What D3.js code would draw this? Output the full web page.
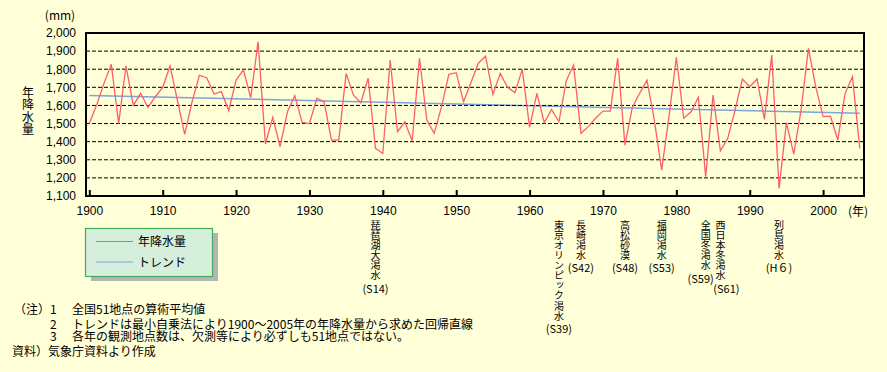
<!DOCTYPE html>
<html>
<head>
<meta charset="utf-8">
<script src="https://cdn.jsdelivr.net/npm/d3@7"></script>
<style>
  body { margin: 0; background: #ffffd8; }
  svg { display: block; font-family: "Noto Sans CJK JP", "Noto Sans", sans-serif; }
  .axis path { display: none; }
  .axis text { font-size: 12px; fill: #000; }
  .vert { writing-mode: vertical-rl; text-orientation: upright; }
</style>
</head>
<body>
<div id="chart"></div>
<script>
// annual precipitation, mean of 51 stations (mm), 1900-2005
var years = d3.range(1900, 2006);
var rainfall = [
  1500, 1602, 1722, 1827, 1500, 1818, 1600, 1667, 1589, 1648,
  1700, 1818, 1630, 1440, 1620, 1766, 1753, 1663, 1676, 1571,
  1740, 1796, 1643, 1952, 1387, 1534, 1372, 1565, 1654, 1506,
  1500, 1639, 1620, 1409, 1409, 1777, 1657, 1615, 1750, 1363,
  1335, 1851, 1455, 1510, 1405, 1860, 1519, 1446, 1593, 1772,
  1781, 1620, 1725, 1832, 1873, 1661, 1777, 1700, 1670, 1799,
  1479, 1667, 1505, 1578, 1510, 1737, 1823, 1446, 1483, 1529,
  1569, 1569, 1860, 1381, 1589, 1667, 1740, 1519, 1243, 1540,
  1866, 1529, 1565, 1645, 1206, 1657, 1350, 1418, 1575, 1746,
  1703, 1746, 1523, 1878, 1142, 1505, 1331, 1575, 1915, 1703,
  1538, 1541, 1409, 1667, 1759, 1363
];
var trendYears = [1900, 2005];
var trendValues = [1655, 1557];

var yTicks = [1100, 1200, 1300, 1400, 1500, 1600, 1700, 1800, 1900, 2000];
var xTicks = [1900, 1910, 1920, 1930, 1940, 1950, 1960, 1970, 1980, 1990, 2000];

var droughts = [
  {year: 1939, name: "琵琶湖大渇水", era: "(S14)"},
  {year: 1964, name: "東京オリンピック渇水", era: "(S39)"},
  {year: 1967, name: "長崎渇水", era: "(S42)"},
  {year: 1973, name: "高松砂漠", era: "(S48)"},
  {year: 1978, name: "福岡渇水", era: "(S53)"},
  {year: 1984, name: "全国冬渇水", era: "(S59)"},
  {year: 1986, name: "西日本冬渇水", era: "(S61)"},
  {year: 1994, name: "列島渇水", era: "(H６)"}
];

var notes = [
  ["（注）", "1", "全国51地点の算術平均値"],
  ["", "2", "トレンドは最小自乗法により1900～2005年の年降水量から求めた回帰直線"],
  ["", "3", "各年の観測地点数は、欠測等により必ずしも51地点ではない。"]
];
var source = "資料）気象庁資料より作成";

var width = 887, height = 372;
var plot = {left: 86, right: 864, top: 33, bottom: 196};

var svg = d3.select("#chart")
  .append("svg")
  .attr("width", width)
  .attr("height", height);

svg.append("rect").attr("width", width).attr("height", height).attr("fill", "#ffffd8");

var xScale = d3.scaleLinear()
  .domain([1900, 2005])
  .range([89.3, 859.8]);

var yScale = d3.scaleLinear()
  .domain([1100, 2000])
  .range([plot.bottom, plot.top]);

// trend first, grid over it
var trendLine = d3.line()
  .x(function(d, i) { return xScale(trendYears[i]); })
  .y(function(d) { return yScale(d); });

svg.append("path")
  .datum(trendValues)
  .attr("d", trendLine)
  .attr("fill", "none")
  .attr("stroke", "#78a6dc")
  .attr("stroke-width", 1.5);

svg.selectAll(".grid")
  .data(yTicks.filter(function(d) { return d > 1100 && d < 2000; }))
  .enter()
  .append("line")
  .attr("class", "grid")
  .attr("x1", plot.left)
  .attr("x2", plot.right)
  .attr("y1", function(d) { return yScale(d); })
  .attr("y2", function(d) { return yScale(d); })
  .attr("stroke", "#000")
  .attr("stroke-width", 1)
  .attr("stroke-dasharray", "4,2");

var rainLine = d3.line()
  .x(function(d, i) { return xScale(years[i]); })
  .y(function(d) { return yScale(d); });

svg.append("path")
  .datum(rainfall)
  .attr("d", rainLine)
  .attr("fill", "none")
  .attr("stroke", "#ff5c70")
  .attr("stroke-width", 1.3);

// frame
svg.append("rect")
  .attr("x", plot.left)
  .attr("y", plot.top)
  .attr("width", plot.right - plot.left)
  .attr("height", plot.bottom - plot.top)
  .attr("fill", "none")
  .attr("stroke", "#000")
  .attr("stroke-width", 2);

var xAxis = svg.append("g")
  .attr("class", "axis")
  .attr("transform", `translate(0,${plot.bottom})`)
  .call(d3.axisBottom(xScale).tickValues(xTicks).tickSize(-6).tickPadding(10).tickFormat(d3.format("d")));
xAxis.selectAll("line").attr("stroke", "#000").attr("stroke-width", 2);

var yAxis = svg.append("g")
  .attr("class", "axis")
  .attr("transform", `translate(${plot.left},0)`)
  .call(d3.axisLeft(yScale).tickValues(yTicks).tickSize(0).tickPadding(10).tickFormat(d3.format(",")));
yAxis.selectAll("line").remove();

svg.append("text")
  .attr("x", 60).attr("y", 20)
  .attr("text-anchor", "middle")
  .attr("font-size", 12)
  .text("(mm)");

svg.append("text")
  .attr("x", 858).attr("y", 216)
  .attr("text-anchor", "middle")
  .attr("font-size", 12)
  .text("(年)");

// vertical y label
svg.append("text")
  .attr("class", "vert")
  .attr("x", 28)
  .attr("y", 86)
  .attr("font-size", 12)
  .attr("letter-spacing", 0.5)
  .text("年降水量");

// legend
svg.append("rect")
  .attr("x", 91).attr("y", 233).attr("width", 127).attr("height", 48)
  .attr("fill", "#b4b4b4");
svg.append("rect")
  .attr("x", 85.5).attr("y", 228.5).attr("width", 127).attr("height", 48)
  .attr("fill", "#d6eedc")
  .attr("stroke", "#3fae55")
  .attr("stroke-width", 1.2);

var legendItems = [
  {label: "年降水量", color: "#ff5c70"},
  {label: "トレンド", color: "#78a6dc"}
];
legendItems.forEach(function(d, i) {
  var ly = 241.5 + i * 20.5;
  svg.append("line")
    .attr("x1", 96).attr("x2", 133)
    .attr("y1", ly).attr("y2", ly)
    .attr("stroke", d.color)
    .attr("stroke-width", 1);
  svg.append("text")
    .attr("x", 138).attr("y", ly + 4.5)
    .attr("font-size", 12)
    .text(d.label);
});

// drought annotations (vertical text)
var eraShift = {"(S59)": -5, "(S61)": 6};
var charStep = 10.1, firstY = 225;
droughts.forEach(function(d) {
  var cx = xScale(d.year);
  var n = d.name.length;
  svg.append("text")
    .attr("class", "vert")
    .attr("x", cx)
    .attr("y", firstY - 5)
    .attr("font-size", 10)
    .attr("letter-spacing", charStep - 10)
    .text(d.name);
  svg.append("text")
    .attr("x", cx + (eraShift[d.era] || 0))
    .attr("y", firstY + n * charStep + 7)
    .attr("text-anchor", "middle")
    .attr("font-size", 11)
    .text(d.era);
});

// notes, one text block
var noteY = [313.8, 328.8, 341.2];
var noteText = svg.append("text").attr("font-size", 12);
notes.forEach(function(n, i) {
  if (n[0]) noteText.append("tspan").attr("x", 14).attr("y", noteY[i]).text(n[0]);
  noteText.append("tspan").attr("x", 50).attr("y", noteY[i]).text(n[1]);
  noteText.append("tspan").attr("x", 72).attr("y", noteY[i]).text(n[2]);
});
noteText.append("tspan").attr("x", 12).attr("y", 356.2).text(source);
</script>
</body>
</html>
